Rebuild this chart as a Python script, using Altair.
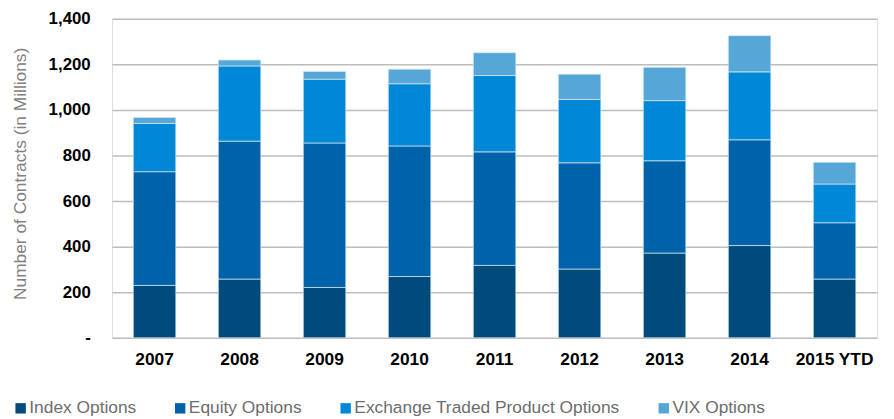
import altair as alt
import pandas as pd

years = ["2007", "2008", "2009", "2010", "2011", "2012", "2013", "2014", "2015 YTD"]
series = ["Index Options", "Equity Options", "Exchange Traded Product Options", "VIX Options"]
index_opts = [230, 258, 221, 269, 318, 302, 372, 405, 258]
equity_opts = [499, 605, 634, 573, 498, 466, 405, 464, 247]
etp_opts = [212, 330, 280, 273, 335, 278, 264, 298, 170]
vix_opts = [26, 26, 34, 64, 100, 111, 146, 159, 95]
colors = ["#004a7c", "#0062a8", "#0088d6", "#56a6d8"]

rows = []
for i, y in enumerate(years):
    for k, (name, vals) in enumerate(zip(series, [index_opts, equity_opts, etp_opts, vix_opts])):
        rows.append({"Year": y, "Series": name, "Value": vals[i], "Order": k})
df = pd.DataFrame(rows)

FONT = "Liberation Sans"

chart = alt.Chart(df).mark_bar(stroke="#d6e9f7", strokeWidth=0.7).encode(
    x=alt.X("Year:N", sort=years,
            scale=alt.Scale(paddingInner=0.5, paddingOuter=0.25),
            axis=alt.Axis(title=None, labelAngle=0, labelFont=FONT, labelFontSize=17.5,
                          labelFontWeight="bold", labelColor="#000000", labelPadding=13,
                          ticks=False, domain=False, grid=False)),
    y=alt.Y("Value:Q", stack="zero",
            scale=alt.Scale(domain=[0, 1400], nice=False),
            axis=alt.Axis(title="Number of Contracts (in Millions)", values=[0, 200, 400, 600, 800, 1000, 1200, 1400],
                          labelExpr="datum.value == 0 ? '-' : format(datum.value, ',')",
                          labelFont=FONT, labelFontSize=17, labelFontWeight="bold", labelColor="#000000",
                          labelPadding=22, ticks=False, domain=False,
                          gridColor="#bdbdbd", gridWidth=1.5,
                          titleFont=FONT, titleFontSize=17.5, titleFontWeight="normal", titleColor="#808080",
                          titleX=-92, titleY=156, titleBaseline="middle")),
    color=alt.Color("Series:N", sort=series,
                    scale=alt.Scale(domain=series, range=colors),
                    legend=alt.Legend(title=None, orient="none", legendX=-101, legendY=384,
                                      direction="horizontal", columns=4, symbolType="square",
                                      symbolSize=110, symbolStrokeWidth=0, symbolOffset=0,
                                      labelFont=FONT, labelFontSize=17.5, labelColor="#6d6d6d",
                                      labelOffset=0, columnPadding=35, symbolLimit=0, labelLimit=400)),
    order=alt.Order("Order:Q", sort="ascending"),
).properties(
    width=772, height=322,
    autosize=alt.AutoSizeParams(type="none"),
    padding={"left": 105, "top": 9, "right": 9, "bottom": 78},
).configure_view(stroke=None).configure(background="#ffffff")

chart.save("out.html", embed_options={"renderer": "svg", "actions": False})
